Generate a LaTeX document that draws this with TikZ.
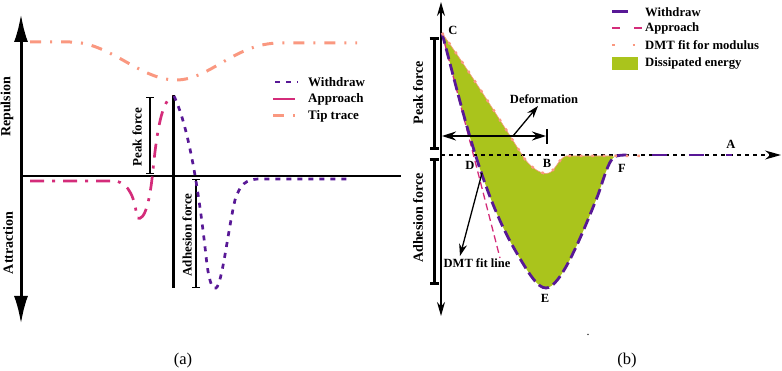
\documentclass[tikz,border=0pt]{standalone}
\usepackage{fontspec}
\setmainfont{Liberation Serif}
\usepackage{tikz}
\usetikzlibrary{arrows.meta,positioning}

\definecolor{withdrawc}{RGB}{88,24,150}
\definecolor{approachc}{RGB}{212,44,122}
\definecolor{tipc}{RGB}{250,152,128}
\definecolor{energyc}{RGB}{170,196,28}

\begin{document}
\begin{tikzpicture}[
    x=1pt, y=-1pt,
    lbl/.style={font=\bfseries\fontsize{12.5}{14}\selectfont, inner sep=0pt},
    leglbl/.style={font=\bfseries\fontsize{13}{15}\selectfont, inner sep=0pt, anchor=west},
    sidelbl/.style={font=\bfseries\fontsize{14}{16}\selectfont, inner sep=0pt, rotate=90},
    caption/.style={font=\fontsize{16.5}{18}\selectfont, inner sep=0pt},
    bigaxis/.style={line width=3pt, {Latex[length=28pt,width=14pt]}-{Latex[length=28pt,width=14pt]}},
    thinaxis/.style={line width=1.4pt, {Stealth[length=14pt,width=8pt]}-{Stealth[length=14pt,width=8pt]}},
    bracket/.style={line width=1.2pt, {Bar[width=8pt]}-{Bar[width=8pt]}},
    thickbracket/.style={line width=3pt, {Bar[width=9pt]}-{Bar[width=9pt]}},
    pointer/.style={line width=1.3pt, -{Stealth[length=12pt,width=8pt]}},
    wdrawA/.style={withdrawc, line width=2.7pt, dash pattern=on 5pt off 6pt},
    apprA/.style={approachc, line width=2.7pt, dash pattern=on 14pt off 8pt on 3pt off 8pt},
    tipA/.style={tipc, line width=3pt, dash pattern=on 11pt off 9pt on 2pt off 9pt},
    wdrawB/.style={withdrawc, line width=2.8pt, dash pattern=on 11pt off 5pt},
    apprB/.style={approachc, line width=1.3pt, dash pattern=on 7pt off 4pt},
    dmtB/.style={tipc, line width=2.5pt, dash pattern=on 2.5pt off 9pt}
]
    \useasboundingbox (0,0) rectangle (782,371);

    % ---------- panel (a) ----------
    % axes
    \node[sidelbl] (rep) at (7,107) {Repulsion};
    \node[sidelbl] (att) at (8,243) {Attraction};
    \coordinate (aTop) at (21,14);
    \coordinate (aBot) at (21,324);
    \coordinate (aOrig) at (21,176);
    \coordinate (aEnd) at (401,176);
    \draw[bigaxis] (aTop) -- (aBot);
    \draw[line width=1.3pt] (aOrig) -- (aEnd);

    % contact line and force bars
    \coordinate (cTop) at (173,95);
    \coordinate (cBot) at (173,288);
    \draw[line width=3pt] (cTop) -- (cBot);
    \coordinate (pkTop) at (150,97);
    \coordinate (pkBot) at (150,174);
    \draw[bracket] (pkTop) -- (pkBot);
    \node[sidelbl, font=\bfseries\fontsize{13}{15}\selectfont] (pkA) at (137,137) {Peak force};
    \coordinate (adTop) at (196,179);
    \coordinate (adBot) at (196,288);
    \draw[bracket] (adTop) -- (adBot);
    \node[sidelbl, font=\bfseries\fontsize{13}{15}\selectfont] (adA) at (187,235) {Adhesion force};

    % curves
    \draw[tipA] (30,42) -- (70,42) .. controls (110,42) and (140,80) .. (176,80)
        .. controls (210,80) and (235,43) .. (280,43) -- (357,43);
    \draw[apprA] (30,181) -- (115,181) .. controls (130,183) and (135,200) .. (137,218)
        .. controls (145,222) and (150,200) .. (153,170)
        .. controls (157,130) and (162,100) .. (173,96);
    \draw[wdrawA] (174,96) .. controls (190,130) and (200,200) .. (207,265)
        .. controls (210,285) and (213,290) .. (216,288)
        .. controls (222,285) and (228,230) .. (235,200)
        .. controls (240,185) and (245,179) .. (260,179) -- (350,179);

    % legend
    \draw[wdrawA] (275,82) -- (298,82);
    \node[leglbl] (lwA) at (308,82) {Withdraw};
    \draw[approachc, line width=2.5pt] (273,99) -- (295,99);
    \node[leglbl] (laA) at (308,99) {Approach};
    \draw[tipA] (273,116) -- (295,116);
    \node[leglbl] (ltA) at (308,116) {Tip trace};

    \node[caption] (capA) at (183,361) {(a)};

    % ---------- panel (b) ----------
    % dissipated energy
    \fill[energyc] (442,33) .. controls (470,72) and (505,128) .. (524,158)
        .. controls (533,170) and (543,175) .. (549,173)
        .. controls (555,171) and (559,158) .. (566,156) -- (612,156) -- (614,157)
        .. controls (608,162) and (604,178) .. (598,195)
        .. controls (580,240) and (560,288) .. (546,288)
        .. controls (538,288) and (530,276) .. (515,250)
        .. controls (480,190) and (460,100) .. (442,33) -- cycle;

    % axes
    \coordinate (bTop) at (441,2);
    \coordinate (bBot) at (441,316);
    \coordinate (bOrig) at (441,155);
    \coordinate (bEnd) at (781,155);
    \draw[thinaxis] (bTop) -- (bBot);
    \draw[line width=1.4pt, dash pattern=on 4pt off 4pt, -{Stealth[length=16pt,width=9pt]}] (bOrig) -- (bEnd);

    \coordinate (pkbTop) at (434,37);
    \coordinate (pkbBot) at (434,150);
    \draw[thickbracket] (pkbTop) -- (pkbBot);
    \node[sidelbl] (pkB) at (418,93) {Peak force};
    \coordinate (adbTop) at (434,158);
    \coordinate (adbBot) at (434,285);
    \draw[thickbracket] (adbTop) -- (adbBot);
    \node[sidelbl] (adB) at (418,218) {Adhesion force};

    % curves
    \draw[apprB] (442,33) -- (500,258);
    \draw[wdrawB] (442,33) .. controls (460,100) and (480,190) .. (515,250)
        .. controls (530,276) and (538,288) .. (546,288)
        .. controls (560,288) and (580,240) .. (598,195)
        .. controls (604,178) and (608,162) .. (614,157)
        .. controls (618,155) and (622,155) .. (630,155);
    \draw[wdrawB, dash pattern=on 15pt off 22pt] (652,155) -- (732,155);
    \draw[tipc, line width=0.6pt] (442,33) .. controls (470,72) and (505,128) .. (524,158)
        .. controls (533,170) and (543,175) .. (549,173)
        .. controls (555,171) and (559,158) .. (566,156) -- (612,156);
    \draw[dmtB] (442,33) .. controls (470,72) and (505,128) .. (524,158)
        .. controls (533,170) and (543,175) .. (549,173)
        .. controls (555,171) and (559,158) .. (566,156) -- (645,156);

    % point labels
    \node[lbl] (C) at (453,30) {C};
    \node[lbl] (D) at (470,165) {D};
    \node[lbl] (B) at (547,163) {B};
    \node[lbl] (F) at (622,168) {F};
    \node[lbl] (E) at (545,298) {E};
    \node[lbl] (A) at (731,144) {A};

    % deformation
    \coordinate (defL) at (442,136);
    \coordinate (defR) at (546,136);
    \draw[line width=1.3pt, {Stealth[length=14pt,width=9pt]}-{Stealth[length=14pt,width=9pt]}] (defL) -- (defR);
    \coordinate (defT) at (547,129);
    \coordinate (defU) at (547,144);
    \draw[line width=1.2pt] (defT) -- (defU);
    \node[lbl] (deflbl) at (544,99) {Deformation};
    \coordinate (defS) at (513,136);
    \coordinate (defE) at (538,106);
    \draw[pointer] (defS) -- (defE);

    % DMT fit line
    \node[lbl] (dmtlbl) at (477,263) {DMT fit line};
    \coordinate (dmtS) at (482,173);
    \coordinate (dmtE) at (460,256);
    \draw[pointer] (dmtS) -- (dmtE);

    % legend
    \draw[withdrawc, line width=3pt] (612,12) -- (628,12);
    \node[leglbl, font=\bfseries\fontsize{12.7}{15}\selectfont] (lwB) at (645,12) {Withdraw};
    \draw[apprB, dash pattern=on 8pt off 14pt] (612,28) -- (642,28);
    \node[leglbl, font=\bfseries\fontsize{12.7}{15}\selectfont] (laB) at (645,28) {Approach};
    \draw[dmtB, dash pattern=on 2.5pt off 18pt] (612,45) -- (636,45);
    \node[leglbl, font=\bfseries\fontsize{12.7}{15}\selectfont] (ldB) at (645,45) {DMT fit for modulus};
    \fill[energyc] (612,57) rectangle (638,70);
    \node[leglbl, font=\bfseries\fontsize{12.7}{15}\selectfont] (leB) at (645,63) {Dissipated energy};

    \node[caption, font=\fontsize{12}{14}\selectfont] (dot) at (588,335) {.};
    \node[caption] (capB) at (627,361) {(b)};
\end{tikzpicture}
\end{document}
